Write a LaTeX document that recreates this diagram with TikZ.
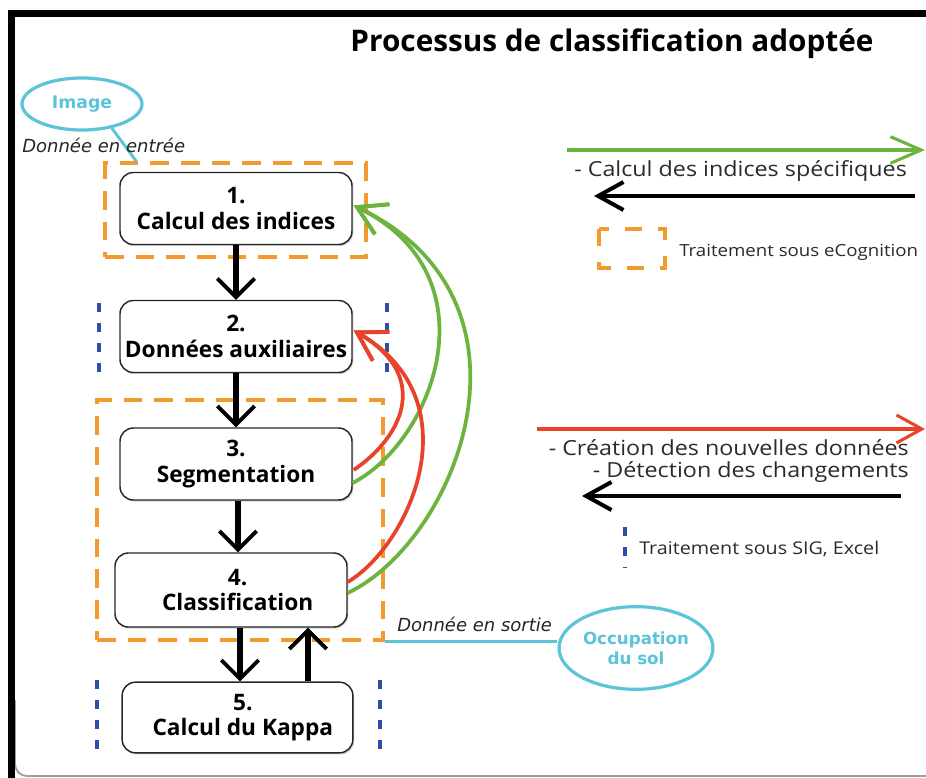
\documentclass[tikz,border=0pt]{standalone}
\usepackage{fontspec}
\setmainfont{Open Sans}
\newfontfamily\dejavu{DejaVu Sans}
\newfontfamily\legfont[FakeStretch=1.12]{Open Sans}
\usetikzlibrary{arrows.meta,shapes.geometric,calc,shadows}

\definecolor{myorange}{HTML}{F39A2E}
\definecolor{mygreen}{HTML}{6DB33F}
\definecolor{myred}{HTML}{E8432A}
\definecolor{mycyan}{HTML}{5BC4D9}
\definecolor{myblue}{HTML}{2E4FA6}
\definecolor{mytext}{HTML}{2B2B2B}

\begin{document}
\begin{tikzpicture}[x=0.75pt,y=-0.75pt,
  stepbox/.style={draw=black!85, line width=1.1pt, rounded corners=10pt, fill=white,
    drop shadow={shadow xshift=1pt, shadow yshift=-1.2pt, opacity=0.35},
    minimum width=174pt, minimum height=54pt, align=center, inner sep=0pt,
    font=\fontsize{17}{19}\selectfont\bfseries},
  obox/.style={draw=myorange, line width=2.5pt, dash pattern=on 14pt off 9pt, inner sep=0pt},
  bdot/.style={draw=myblue, line width=2.4pt, dash pattern=on 7pt off 8pt},
  blk/.style={draw=black, line width=4pt, -{Straight Barb[length=14pt,width=28pt,line width=2.8pt]}},
  gcurve/.style={draw=mygreen, line width=2.8pt, -{Straight Barb[length=21pt,width=25pt,line width=2.8pt]}},
  rcurve/.style={draw=myred, line width=2.8pt, -{Straight Barb[length=21pt,width=25pt,line width=2.8pt]}},
  garrow/.style={draw=mygreen, line width=2.3pt, -{Straight Barb[length=23pt,width=20pt,line width=2.3pt]}},
  rarrow/.style={draw=myred, line width=2.3pt, -{Straight Barb[length=19pt,width=21pt,line width=2.3pt]}},
  karrow/.style={draw=black, line width=3pt, -{Straight Barb[length=19pt,width=21pt,line width=3pt]}},
  bubble/.style={ellipse, draw=mycyan, line width=2.4pt, inner sep=0pt, text=mycyan, align=center},
  cyanline/.style={draw=mycyan, line width=2.2pt},
  legtext/.style={text=mytext, inner sep=0pt, font=\legfont\fontsize{15.6}{16.5}\selectfont},
  smalltext/.style={text=mytext, inner sep=0pt, font=\legfont\fontsize{13.2}{15}\selectfont},
  itext/.style={text=black!85, inner sep=0pt, font=\dejavu\itshape\fontsize{13.5}{15}\selectfont}
]
\useasboundingbox (0,0) rectangle (926,778);
\fill[white] (0,0) rectangle (926,778);

% frame
\draw[gray!75, line width=1.4pt, rounded corners=9pt] (15,700) -- (15,776) -- (926,776);
\fill[black] (8,10) rectangle (926,17);
\fill[black] (8,10) rectangle (15,778);

% title
\node[font=\fontsize{22.3}{24}\selectfont\bfseries, inner sep=0pt] (title) at (612,44) {Processus de classification adoptée};

% orange dashed zones
\node[obox, minimum width=195.75pt, minimum height=70.5pt] (e1) at (235.5,210) {};
\node[obox, minimum width=214.5pt, minimum height=180pt] (e2) at (240,520) {};

% blue dotted markers
\draw[bdot] (99,303) -- (99,374);
\draw[bdot] (387,303) -- (387,374);
\draw[bdot] (97,680) -- (97,752);
\draw[bdot] (380,680) -- (380,752);

% steps
\node[stepbox] (b1) at (236,208.5) {1.\\Calcul des indices};
\node[stepbox] (b2) at (236,336.5) {2.\\Données auxiliaires};
\node[stepbox] (b3) at (236,464) {3.\\Segmentation};
\node[stepbox, minimum height=55.5pt] (b4) at (231,590) {\hspace*{10pt}4.\\\hspace*{10pt}Classification};
\node[stepbox, minimum width=173pt, minimum height=53pt] (b5) at (237.5,717.5) {\hspace*{8pt}5.\\\hspace*{8pt}Calcul du Kappa};

% black flow arrows
\draw[blk] (b1.south) -- (b2.north);
\draw[blk] (b2.south) -- (b3.north);
\draw[blk] (b3.south -| 238,0) -- (b4.north -| 238,0);
\coordinate (a45) at (240,0);
\coordinate (a54) at (308,0);
\draw[blk] (b4.south -| a45) -- (b5.north -| a45);
\draw[blk] (b5.north -| a54) -- (b4.south -| a54);

% feedback curves
\draw[gcurve] ($(b3.east)+(0,19)$) .. controls (435,440) and (495,275) .. ($(b1.east)+(1,-3)$);
\draw[gcurve] ($(b4.east)+(0,3)$) .. controls (458,540) and (552,300) .. ($(b1.east)+(1,-3)$);
\draw[rcurve] ($(b3.east)+(1,6)$) .. controls (405,435) and (430,375) .. ($(b2.east)+(1,-6)$);
\draw[rcurve] ($(b4.east)+(0,-8)$) .. controls (410,545) and (475,400) .. ($(b2.east)+(1,-6)$);

% input / output bubbles
\node[bubble, minimum width=90pt, minimum height=39pt, font=\dejavu\bfseries\fontsize{13}{14}\selectfont] (img) at (82,104) {Image};
\draw[cyanline] (img.-39) -- ($(e1.north west)+(33,0)$);
\node[itext, anchor=west] (lin) at (22,145) {Donnée en entrée};

\node[bubble, minimum width=115.5pt, minimum height=62pt, font=\dejavu\bfseries\fontsize{12.5}{15}\selectfont] (occ) at (636,648) {Occupation\\du sol};
\draw[cyanline] (e2.south east) -- (e2.south east -| occ.west);
\node[itext, anchor=west] (lout) at (397,624) {Donnée en sortie};

% legend 1
\coordinate (g1s) at (567,150);
\coordinate (g1e) at (925,150);
\draw[garrow] (g1s) -- (g1e);
\node[legtext, anchor=west] (t1) at (574,171) {- Calcul des indices spécifiques};
\coordinate (k1s) at (915,196);
\coordinate (k1e) at (594,196);
\draw[karrow] (k1s) -- (k1e);
\draw[draw=myorange, line width=2.4pt, dash pattern=on 13pt off 12pt] (599,229) rectangle (665,268);
\node[smalltext, anchor=west, font=\legfont\fontsize{12.5}{15}\selectfont] (t2) at (679,252) {Traitement sous eCognition};

% legend 2
\coordinate (r1s) at (537,429);
\coordinate (r1e) at (925,429);
\draw[rarrow] (r1s) -- (r1e);
\node[legtext, anchor=east, align=right] (t3) at (909,461) {- Création des nouvelles données\\- Détection des changements};
\coordinate (k2s) at (901,496);
\coordinate (k2e) at (582,496);
\draw[karrow] (k2s) -- (k2e);
\draw[bdot] (625,527) -- (625,568);
\node[smalltext, anchor=west] (t5) at (639,549) {Traitement sous SIG, Excel};
\end{tikzpicture}
\end{document}
